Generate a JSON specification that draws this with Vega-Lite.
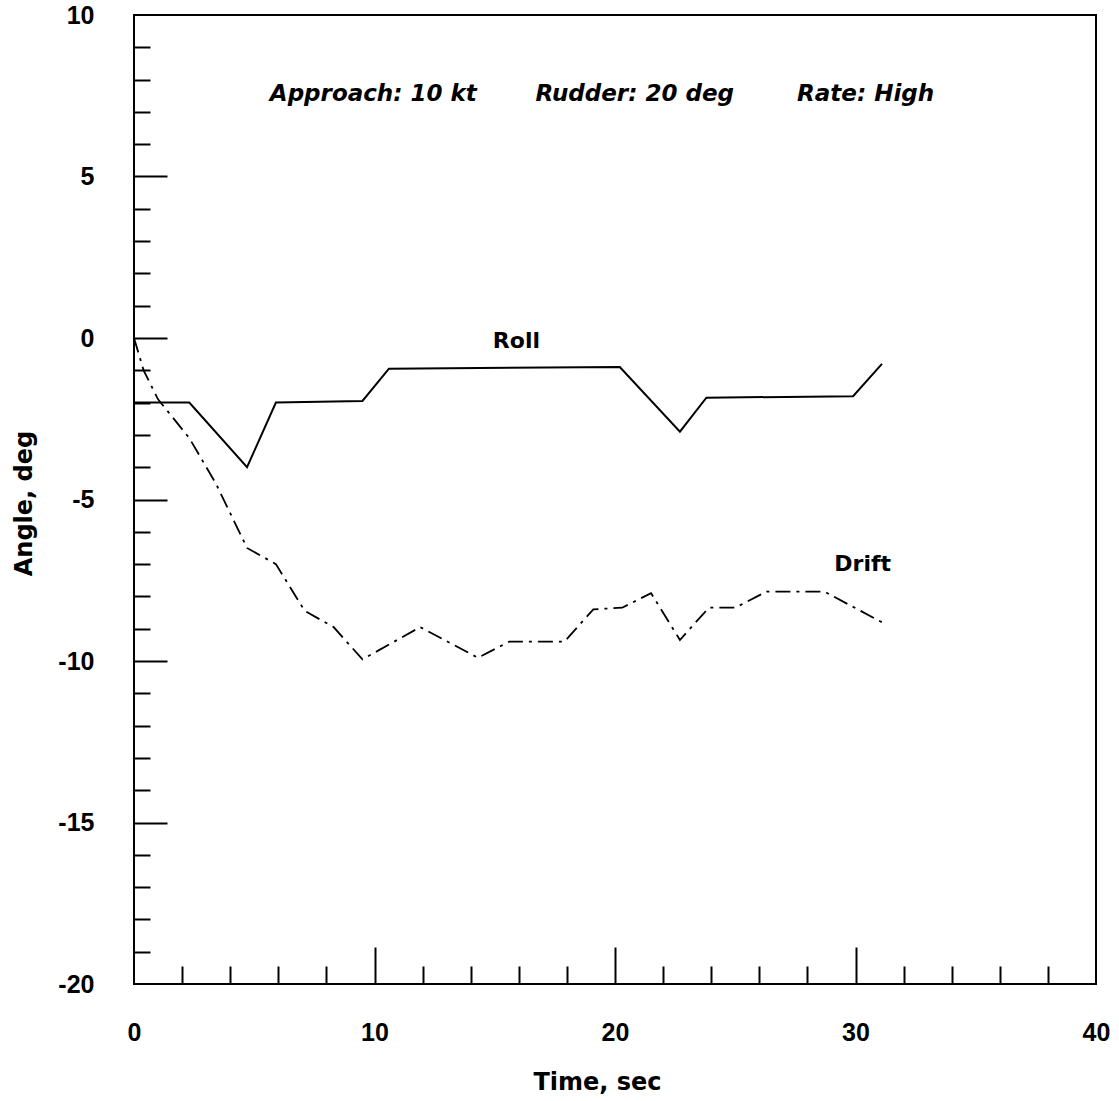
{
  "$schema": "https://vega.github.io/schema/vega-lite/v6.json",
  "width": 962,
  "height": 969,
  "autosize": {"type": "none"},
  "padding": {"left": 134, "top": 15, "right": 23, "bottom": 117},
  "background": "white",
  "config": {
    "view": {"stroke": "black", "strokeWidth": 2},
    "axis": {"grid": false, "domain": false, "tickColor": "black", "tickWidth": 2, "labelColor": "black", "titleColor": "black"}
  },
  "datasets": {
    "roll": [
      {"time": 0, "angle": -2}, {"time": 2.3, "angle": -2}, {"time": 4.7, "angle": -4}, {"time": 5.9, "angle": -2},
      {"time": 9.5, "angle": -1.95}, {"time": 10.6, "angle": -0.95}, {"time": 20.2, "angle": -0.9}, {"time": 22.7, "angle": -2.9},
      {"time": 23.8, "angle": -1.85}, {"time": 29.9, "angle": -1.8}, {"time": 31.1, "angle": -0.8}
    ],
    "drift": [
      {"time": 0, "angle": 0}, {"time": 0.4, "angle": -1.0}, {"time": 1.0, "angle": -1.9}, {"time": 1.6, "angle": -2.45},
      {"time": 2.3, "angle": -3.1}, {"time": 3.4, "angle": -4.5}, {"time": 4.7, "angle": -6.5}, {"time": 5.9, "angle": -7.0},
      {"time": 7.1, "angle": -8.45}, {"time": 8.3, "angle": -8.95}, {"time": 9.5, "angle": -9.95}, {"time": 11.9, "angle": -8.95},
      {"time": 14.3, "angle": -9.9}, {"time": 15.6, "angle": -9.4}, {"time": 17.9, "angle": -9.4}, {"time": 19.1, "angle": -8.4},
      {"time": 20.3, "angle": -8.35}, {"time": 21.5, "angle": -7.9}, {"time": 22.7, "angle": -9.35}, {"time": 23.9, "angle": -8.35},
      {"time": 25.0, "angle": -8.35}, {"time": 26.3, "angle": -7.85}, {"time": 28.7, "angle": -7.85}, {"time": 31.1, "angle": -8.8}
    ],
    "serieslabels": [
      {"time": 15.9, "angle": -0.1, "text": "Roll"},
      {"time": 30.3, "angle": -7.0, "text": "Drift"}
    ],
    "notes": [
      {"time": 9.95, "angle": 7.56, "text": "Approach: 10 kt"},
      {"time": 20.82, "angle": 7.56, "text": "Rudder: 20 deg"},
      {"time": 30.42, "angle": 7.56, "text": "Rate: High"}
    ]
  },
  "resolve": {"axis": {"x": "independent", "y": "independent"}},
  "layer": [
    {
      "data": {"name": "roll"},
      "mark": {"type": "line", "color": "black", "strokeWidth": 2},
      "encoding": {
        "x": {"field": "time", "type": "quantitative", "scale": {"domain": [0, 40], "nice": false, "zero": false},
          "axis": {"orient": "bottom", "values": [0, 10, 20, 30, 40], "ticks": false, "labelPadding": 36, "labelFont": "Liberation Sans", "labelFontSize": 25, "labelFontWeight": "bold", "labelFlush": false, "labelOverlap": false,
            "title": "Time, sec", "titleFont": "DejaVu Sans", "titleFontSize": 24, "titleFontWeight": "bold", "titleX": 463, "titleY": 98, "titleBaseline": "middle", "titleAlign": "center"}},
        "y": {"field": "angle", "type": "quantitative", "scale": {"domain": [-20, 10], "nice": false, "zero": false},
          "axis": {"orient": "left", "values": [-20, -15, -10, -5, 0, 5, 10], "ticks": false, "labelPadding": 40, "labelFont": "Liberation Sans", "labelFontSize": 25, "labelFontWeight": "bold", "labelFlush": false, "labelOverlap": false,
            "labelExpr": "datum.value < 0 ? '-' + abs(datum.value) : '' + datum.value",
            "title": "Angle, deg", "titleFont": "DejaVu Sans", "titleFontSize": 24, "titleFontWeight": "bold", "titleX": -110, "titleY": 488, "titleAngle": 270, "titleBaseline": "middle", "titleAlign": "center"}}
      }
    },
    {
      "data": {"name": "drift"},
      "mark": {"type": "line", "color": "black", "strokeWidth": 1.8, "strokeDash": [15, 6, 3, 6]},
      "encoding": {
        "x": {"field": "time", "type": "quantitative", "scale": {"domain": [0, 40], "nice": false, "zero": false},
          "axis": {"orient": "bottom", "values": [10, 20, 30], "labels": false, "tickSize": -37, "title": null}},
        "y": {"field": "angle", "type": "quantitative", "scale": {"domain": [-20, 10], "nice": false, "zero": false},
          "axis": {"orient": "left", "values": [-15, -10, -5, 0, 5], "labels": false, "tickSize": -33, "title": null}}
      }
    },
    {
      "data": {"name": "serieslabels"},
      "mark": {"type": "text", "font": "DejaVu Sans", "fontSize": 22, "fontWeight": "bold", "color": "black", "baseline": "middle", "align": "center"},
      "encoding": {
        "x": {"field": "time", "type": "quantitative", "scale": {"domain": [0, 40], "nice": false, "zero": false},
          "axis": {"orient": "bottom", "values": [2, 4, 6, 8, 12, 14, 16, 18, 22, 24, 26, 28, 32, 34, 36, 38], "labels": false, "tickSize": -18, "title": null}},
        "y": {"field": "angle", "type": "quantitative", "scale": {"domain": [-20, 10], "nice": false, "zero": false},
          "axis": {"orient": "left", "values": [-19, -18, -17, -16, -14, -13, -12, -11, -9, -8, -7, -6, -4, -3, -2, -1, 1, 2, 3, 4, 6, 7, 8, 9], "labels": false, "tickSize": -16, "title": null}},
        "text": {"field": "text"}
      }
    },
    {
      "data": {"name": "notes"},
      "mark": {"type": "text", "font": "DejaVu Sans", "fontSize": 23, "fontWeight": "bold", "fontStyle": "italic", "color": "black", "baseline": "middle", "align": "center"},
      "encoding": {
        "x": {"field": "time", "type": "quantitative", "scale": {"domain": [0, 40], "nice": false, "zero": false}, "axis": null},
        "y": {"field": "angle", "type": "quantitative", "scale": {"domain": [-20, 10], "nice": false, "zero": false}, "axis": null},
        "text": {"field": "text"}
      }
    }
  ]
}
